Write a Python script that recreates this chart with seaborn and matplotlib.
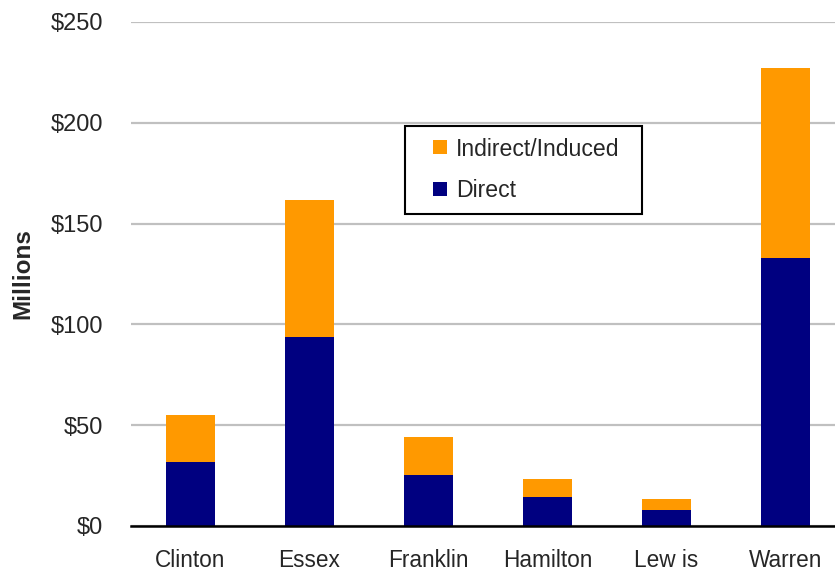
import matplotlib
matplotlib.use("Agg")
import matplotlib.pyplot as plt
import seaborn as sns
import pandas as pd
import numpy as np
from matplotlib.lines import Line2D
from matplotlib.ticker import FixedLocator

counties = ["Clinton", "Essex", "Franklin", "Hamilton", "Lew is", "Warren"]
direct = [31.7, 93.9, 25.2, 14.4, 7.9, 133.0]
indirect = [23.3, 67.8, 18.7, 8.7, 5.5, 94.0]
series_names = ["Indirect/Induced", "Direct"]
ytick_vals = [0, 50, 100, 150, 200, 250]
ytick_labels = ["$0", "$50", "$100", "$150", "$200", "$250"]

ORANGE = "#FF9900"
NAVY = "#000080"

sns.set_theme(style="white")
plt.rcParams["font.family"] = ["Liberation Sans", "DejaVu Sans"]

df = pd.DataFrame({
    "county": counties,
    "direct": direct,
    "total": [d + i for d, i in zip(direct, indirect)],
})

fig = plt.figure(figsize=(8.35, 5.71), dpi=100)
ax = fig.add_axes([131 / 835, 1 - 526 / 571, 714 / 835, 504 / 571])

sns.barplot(data=df, x="county", y="total", color=ORANGE, width=0.415,
            saturation=1, ax=ax, zorder=3, linewidth=0, edgecolor="none")
sns.barplot(data=df, x="county", y="direct", color=NAVY, width=0.415,
            saturation=1, ax=ax, zorder=3, linewidth=0, edgecolor="none")

ax.set_ylim(0, 250)
ax.set_xlim(-0.5, len(counties) - 0.5)
ax.set_yticks(ytick_vals)
ax.set_yticklabels(ytick_labels, fontsize=17)
ax.tick_params(axis="y", length=0, pad=20)
ax.yaxis.grid(True, color="#c0c0c0", linewidth=1.6, zorder=0)
ax.set_axisbelow(True)

ax.tick_params(axis="x", which="major", length=0, pad=16.5, labelsize=16.3)
ax.xaxis.set_minor_locator(FixedLocator(np.arange(-0.5, len(counties) - 0.5, 1.0)))
ax.tick_params(axis="x", which="minor", length=6, width=1.6, color="black",
               direction="out")

for s in ["top", "right", "left"]:
    ax.spines[s].set_visible(False)
ax.spines["bottom"].set_color("black")
ax.spines["bottom"].set_linewidth(1.8)
ax.spines["bottom"].set_zorder(5)

ax.set_xlabel("")
ax.set_ylabel("Millions", fontsize=17.5, fontweight="bold")
ax.yaxis.set_label_coords(-0.135, 0.5)

handles = [Line2D([], [], linestyle="none", marker="s", markersize=10.3,
                  markerfacecolor=ORANGE, markeredgewidth=0),
           Line2D([], [], linestyle="none", marker="s", markersize=10.3,
                  markerfacecolor=NAVY, markeredgewidth=0)]
leg = ax.legend(handles, series_names, loc="upper left",
                bbox_to_anchor=(405 / 835, 1 - 212 / 571, 237 / 835, 86 / 571),
                bbox_transform=fig.transFigure, borderaxespad=0, mode="expand",
                fontsize=16.6, frameon=True, fancybox=False,
                handlelength=2.0, handletextpad=-0.3,
                labelspacing=0.8, borderpad=0.5)
leg.get_frame().set_edgecolor("black")
leg.get_frame().set_linewidth(1.5)
leg.get_frame().set_alpha(1)

fig.savefig("out.png", dpi=100)
